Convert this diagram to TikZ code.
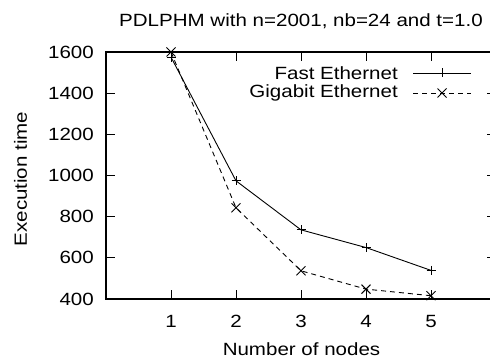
\documentclass[tikz,border=0pt]{standalone}
\usepackage{fontspec}
\usepackage{graphicx}
\setmainfont{Liberation Sans}
\newcommand{\hs}[1]{\scalebox{1.16}[1]{#1}}
\tikzset{
  lbl/.style={inner sep=0pt, font=\fontsize{17.7}{20}\selectfont},
  frameline/.style={line width=1.2pt, line cap=rect},
  tickline/.style={line width=1pt},
  fastline/.style={line width=0.9pt},
  gigline/.style={line width=0.9pt, dash pattern=on 5pt off 4pt},
  plusmark/.pic={\draw[line width=0.9pt] (-4.5,0) -- (4.5,0) (0,-4.5) -- (0,4.5);},
  crossmark/.pic={\draw[line width=0.9pt] (-4.5,-4.5) -- (4.5,4.5) (-4.5,4.5) -- (4.5,-4.5);}
}
\begin{document}
\begin{tikzpicture}[x=1pt, y=-1pt]
\useasboundingbox (0,0) rectangle (490,358);
\clip (0,0) rectangle (490,358);
\fill[white] (0,0) rectangle (490,358);
% frame
\coordinate (tl) at (106,52);
\coordinate (br) at (496,299);
\draw[frameline] (tl) rectangle (br);
% x ticks
\foreach \i in {1,...,5} {
  \pgfmathsetmacro{\xx}{106+65*\i}
  \draw[tickline] (\xx,299) -- (\xx,290);
  \draw[tickline] (\xx,52) -- (\xx,61);
  \node[lbl, anchor=base] (xl\i) at (\xx,327) {\hs{\i}};
}
% y ticks
\foreach \v in {400,600,...,1600} {
  \pgfmathsetmacro{\yy}{299-(\v-400)/1200*247}
  \draw[tickline] (106,\yy) -- (115,\yy);
  \draw[tickline] (496,\yy) -- (487,\yy);
  \node[lbl, anchor=east] (yl\v) at (94,\yy) {\hs{\v}};
}
% labels
\node[lbl, anchor=base] (title) at (301,27) {\hs{PDLPHM with n=2001, nb=24 and t=1.0}};
\node[lbl, anchor=base] (xlabel) at (301.5,355.5) {\hs{Number of nodes}};
\node[lbl, anchor=base, rotate=90] (ylabel) at (27,179) {\hs{Execution time}};
% data points
\foreach \n/\x/\v in {1/1/1575, 2/2/974, 3/3/736, 4/4/650, 5/5/539} {
  \coordinate (f\n) at ({106+65*\x},{299-(\v-400)/1200*247});
}
\foreach \n/\x/\v in {1/1/1600, 2/2/843, 3/3/537, 4/4/448, 5/5/416} {
  \coordinate (g\n) at ({106+65*\x},{299-(\v-400)/1200*247});
}
\draw[fastline] (f1) -- (f2) -- (f3) -- (f4) -- (f5);
\draw[gigline] (g1) -- (g2) -- (g3) -- (g4) -- (g5);
\foreach \n in {1,...,5} {
  \pic at (f\n) {plusmark};
  \pic at (g\n) {crossmark};
}
% legend
\node[lbl, anchor=east] (lfast) at (398,73) {\hs{Fast Ethernet}};
\node[lbl, anchor=east] (lgig) at (398,93) {\hs{Gigabit Ethernet}};
\coordinate (lfa) at (413,73);
\coordinate (lfb) at (471,73);
\coordinate (lga) at (413,93);
\coordinate (lgb) at (471,93);
\draw[fastline] (lfa) -- (lfb);
\draw[gigline] (lga) -- (lgb);
\pic at (442,73) {plusmark};
\pic at (442,93) {crossmark};
\end{tikzpicture}
\end{document}
